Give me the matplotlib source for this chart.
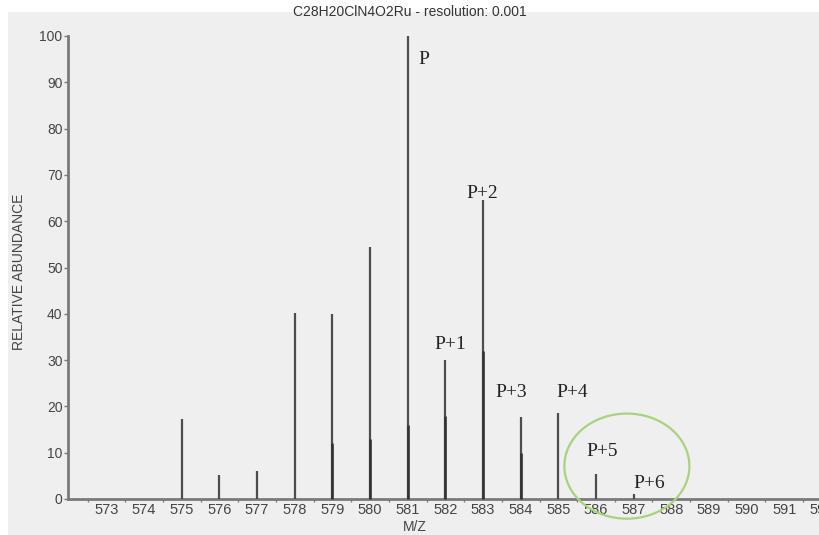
import numpy as np
import matplotlib
matplotlib.use("Agg")
import matplotlib.pyplot as plt
from matplotlib.patches import Ellipse, Rectangle

# isotope pattern
mz = [575, 576, 577, 578, 579, 580, 581, 582, 583, 584, 585, 586, 587]
abundance = [17.3, 5.2, 6.0, 40.2, 39.9, 54.5, 100.0, 30.0, 64.6, 17.8, 18.6, 5.5, 1.0]
# darker lower segments (second overlaid trace)
inner_mz = [579, 580, 581, 582, 583, 584]
inner_ab = [12.0, 13.0, 16.0, 18.0, 32.0, 10.0]

peak_labels = ["P", "P+1", "P+2", "P+3", "P+4", "P+5", "P+6"]
peak_mz = [581, 582, 583, 584, 585, 586, 587]
x_ticks = list(range(573, 593))
y_ticks = list(range(0, 101, 10))

W, H = 819, 535
fig = plt.figure(figsize=(W / 100, H / 100), dpi=100, facecolor="white")
fig.patches.append(Rectangle((8 / W, 0), 1, 1 - 12 / H, transform=fig.transFigure,
                             facecolor="#efefef", edgecolor="none", zorder=-1))

ax = fig.add_axes([68 / W, 36 / H, 21 * 37.66 / W, 463 / H])
ax.set_facecolor("#efefef")
ax.set_xlim(571.98, 592.98)
ax.set_ylim(0, 100)

ax.vlines(mz, 0, abundance, color="#4d4d4d", lw=1.6, clip_on=False, zorder=3)
ax.vlines(inner_mz, 0, inner_ab, color="#333333", lw=1.9, clip_on=False, zorder=4)

ab_map = dict(zip(mz, abundance))
# label placement relative to each peak top (x shift, y shift)
dx = [0.42, 0.14, -0.02, -0.25, 0.36, 0.17, 0.42]
dy = [-5.0, 3.3, 1.3, 5.3, 4.5, 4.7, 2.4]
for lab, m, ox, oy in zip(peak_labels, peak_mz, dx, dy):
    ax.text(m + ox, ab_map[m] + oy, lab, ha="center", va="center",
            fontsize=14, family="Liberation Serif", color="#222222", zorder=5)

ax.add_patch(Ellipse((586.82, 7.1), 3.32, 22.7, fill=False, edgecolor="#a9d27e",
                     lw=1.6, clip_on=False, zorder=6))

for s in ["top", "right"]:
    ax.spines[s].set_visible(False)
for s in ["left", "bottom"]:
    ax.spines[s].set_color("#7a7a7a")
    ax.spines[s].set_linewidth(2)

ax.set_xticks(x_ticks)
ax.set_xticks(np.arange(572.5, 593, 1.0), minor=True)
ax.set_yticks(y_ticks)
ax.tick_params(axis="x", which="major", length=0, pad=3, labelsize=10.5, labelcolor="#444444")
ax.tick_params(axis="x", which="minor", length=2, width=1, color="#777777")
ax.tick_params(axis="y", length=3, width=1, color="#777777", pad=1, labelsize=10,
               labelcolor="#444444")
for t in ax.get_xticklabels() + ax.get_yticklabels():
    t.set_family("Liberation Sans")

fig.text(410 / W, 1 - 12 / H, "C28H20ClN4O2Ru - resolution: 0.001", ha="center", va="center",
         fontsize=10, family="Liberation Sans", color="#333333")
fig.text(415 / W, 1 - 527 / H, "M/Z", ha="center", va="center", fontsize=10,
         family="Liberation Sans", color="#444444")
fig.text(19 / W, 1 - 272 / H, "RELATIVE ABUNDANCE", ha="center", va="center", rotation=90,
         fontsize=10, family="Liberation Sans", color="#444444")

fig.savefig("out.png", dpi=100)
